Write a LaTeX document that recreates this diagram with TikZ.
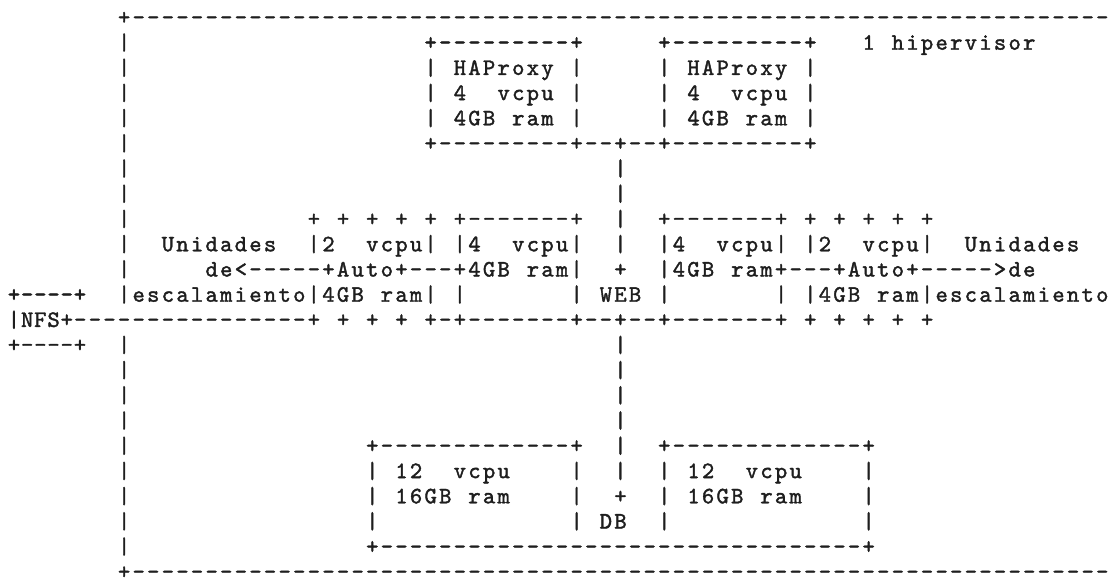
\documentclass[tikz,border=0pt]{standalone}
\usepackage{fontspec}
\usepackage{tikz}
\newfontfamily\asciifont{lmmono10-regular.otf}[FakeBold=1.6]
\definecolor{ink}{HTML}{1E1E1E}
\newlength\cw
\setlength\cw{14.6pt}
\makeatletter
\def\asc#1{\asc@i#1\@nil}
\def\asc@i#1{\ifx\@nil#1\else\asc@c{#1}\expandafter\asc@i\fi}
\def\asc@c#1{\if.#1\hbox to\cw{\hfil}\else\hbox to\cw{\hss#1\hss}\fi}
\makeatother
\newcommand\gap[1]{\hbox to #1\cw{\hfil}}
\newcommand\dsh[1]{\foreach\k in {1,...,#1}{\hbox to\cw{\hss-\hss}}}
\begin{document}
\begin{tikzpicture}[x=1pt,y=-1pt,
  row/.style={anchor=base west, inner sep=0pt, outer sep=0pt,
    font=\asciifont\fontsize{23.5}{25}\selectfont, text=ink},
  nfsrow/.style={row}]
\useasboundingbox (0,0) rectangle (1115,583);
\fill[white] (0,0) rectangle (1115,583);
\node[row] (r0) at (0,24.5) {\gap{8}\asc{+}\dsh{67}};
\node[row] (r1) at (0,49.7) {\gap{8}\asc{|}\gap{20}\asc{+}\dsh{9}\asc{+}\gap{5}\asc{+}\dsh{9}\asc{+}\gap{3}\asc{1.hipervisor}};
\node[row] (r2) at (0,74.9) {\gap{8}\asc{|}\gap{20}\asc{|.HAProxy.|}\gap{5}\asc{|.HAProxy.|}};
\node[row] (r3) at (0,100.1) {\gap{8}\asc{|}\gap{20}\asc{|.4..vcpu.|}\gap{5}\asc{|.4..vcpu.|}};
\node[row] (r4) at (0,125.3) {\gap{8}\asc{|}\gap{20}\asc{|.4GB.ram.|}\gap{5}\asc{|.4GB.ram.|}};
\node[row] (r5) at (0,150.5) {\gap{8}\asc{|}\gap{20}\asc{+}\dsh{9}\asc{+--+--+}\dsh{9}\asc{+}};
\node[row] (r6) at (0,175.7) {\gap{8}\asc{|}\gap{33}\asc{|}};
\node[row] (r7) at (0,200.9) {\gap{8}\asc{|}\gap{33}\asc{|}};
\node[row] (r8) at (0,226.1) {\gap{8}\asc{|}\gap{12}\asc{+.+.+.+.+.+-------+..|..+-------+.+.+.+.+.+}};
\node[row] (r9) at (0,251.3) {\gap{8}\asc{|..Unidades..|2..vcpu|.|4..vcpu|..|..|4..vcpu|.|2..vcpu|..Unidades}};
\node[row] (r10) at (0,276.5) {\gap{8}\asc{|.....de<-----+Auto+---+4GB.ram|..+..|4GB.ram+---+Auto+----->de}};
\node[row] (r11) at (0,301.7) {\gap{8}\asc{|escalamiento|4GB.ram|.|.......|.WEB.|.......|.|4GB.ram|escalamiento}};
\node[row] (r12) at (0,326.9) {\gap{5}\dsh{16}\asc{+.+.+.+.+-+-------+--+--+-------+.+.+.+.+.+}};
\node[row] (r13) at (0,352.1) {\gap{8}\asc{|}\gap{33}\asc{|}};
\node[row] (r14) at (0,377.3) {\gap{8}\asc{|}\gap{33}\asc{|}};
\node[row] (r15) at (0,402.5) {\gap{8}\asc{|}\gap{33}\asc{|}};
\node[row] (r16) at (0,427.7) {\gap{8}\asc{|}\gap{33}\asc{|}};
\node[row] (r17) at (0,452.9) {\gap{8}\asc{|}\gap{16}\asc{+}\dsh{13}\asc{+..|..+}\dsh{13}\asc{+}};
\node[row] (r18) at (0,478.1) {\gap{8}\asc{|}\gap{16}\asc{|.12..vcpu....|..|..|.12..vcpu....|}};
\node[row] (r19) at (0,503.3) {\gap{8}\asc{|}\gap{16}\asc{|.16GB.ram....|..+..|.16GB.ram....|}};
\node[row] (r20) at (0,528.5) {\gap{8}\asc{|}\gap{16}\asc{|.............|.DB..|.............|}};
\node[row] (r21) at (0,553.7) {\gap{8}\asc{|}\gap{16}\asc{+}\dsh{33}\asc{+}};
\node[row] (r22) at (0,578.9) {\gap{8}\asc{+}\dsh{67}};
% NFS box, set a little tighter
\node[nfsrow] (n11) at (7.4,301.7) {\setlength\cw{13.2pt}\asc{+----+}};
\node[nfsrow] (n12) at (7.4,326.9) {\setlength\cw{13.2pt}\asc{|NFS+}};
\node[nfsrow] (n13) at (7.4,352.1) {\setlength\cw{13.2pt}\asc{+----+}};
\end{tikzpicture}
\end{document}
